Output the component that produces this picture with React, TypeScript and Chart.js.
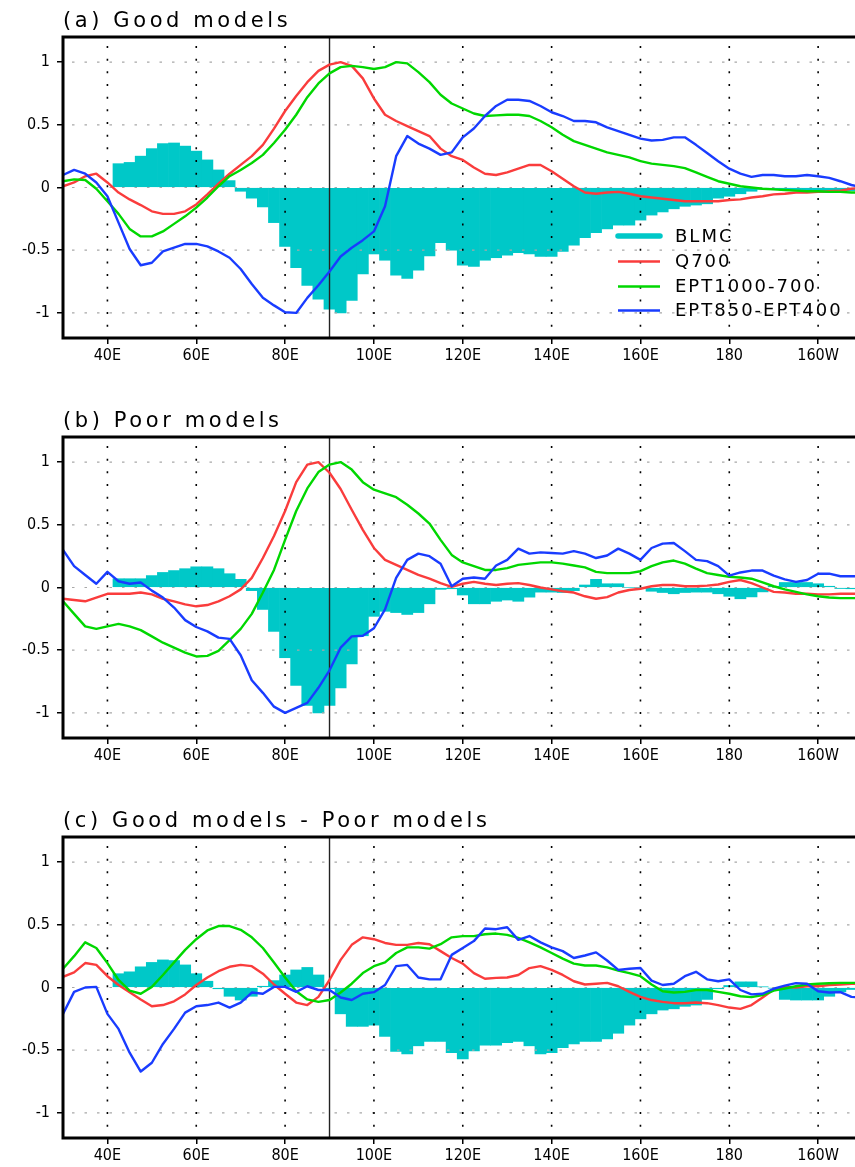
import React, { useEffect, useRef } from 'react';
import { Chart, registerables } from 'chart.js';

Chart.register(...registerables);

// ---------- axes ----------
const LINE_LON = [
  30, 32.5, 35, 37.5, 40, 42.5, 45, 47.5, 50, 52.5,
  55, 57.5, 60, 62.5, 65, 67.5, 70, 72.5, 75, 77.5,
  80, 82.5, 85, 87.5, 90, 92.5, 95, 97.5, 100, 102.5,
  105, 107.5, 110, 112.5, 115, 117.5, 120, 122.5, 125, 127.5,
  130, 132.5, 135, 137.5, 140, 142.5, 145, 147.5, 150, 152.5,
  155, 157.5, 160, 162.5, 165, 167.5, 170, 172.5, 175, 177.5,
  180, 182.5, 185, 187.5, 190, 192.5, 195, 197.5, 200, 202.5,
  205, 207.5, 210,
];
const BAR_LON = [
  42.5, 45, 47.5, 50, 52.5, 55, 57.5, 60, 62.5, 65,
  67.5, 70, 72.5, 75, 77.5, 80, 82.5, 85, 87.5, 90,
  92.5, 95, 97.5, 100, 102.5, 105, 107.5, 110, 112.5, 115,
  117.5, 120, 122.5, 125, 127.5, 130, 132.5, 135, 137.5, 140,
  142.5, 145, 147.5, 150, 152.5, 155, 157.5, 160, 162.5, 165,
  167.5, 170, 172.5, 175, 177.5, 180, 182.5, 185, 187.5, 190,
  192.5, 195, 197.5, 200, 202.5, 205, 207.5,
];
const X_TICKS = [40, 60, 80, 100, 120, 140, 160, 180, 200];
const X_LABELS = ['40E', '60E', '80E', '100E', '120E', '140E', '160E', '180', '160W'];
const Y_TICKS = [-1, -0.5, 0, 0.5, 1];
const Y_LABELS = ['-1', '-0.5', '0', '0.5', '1'];
const X_MIN = 30;
const X_MAX = 208.3;
const Y_MIN = -1.2;
const Y_MAX = 1.2;
const REF_LON = 90;

const SERIES_NAMES = ['BLMC', 'Q700', 'EPT1000-700', 'EPT850-EPT400'];
const SERIES_COLORS = ['rgb(0,200,200)', 'rgb(250,60,60)', 'rgb(0,215,0)', 'rgb(25,60,255)'];
const PANEL_TITLES = ['(a) Good models', '(b) Poor models', '(c) Good models - Poor models'];

// ---------- panel (a) ----------
const BLMC_A = [
  0.19, 0.20, 0.25, 0.31, 0.35, 0.355, 0.33, 0.29, 0.22, 0.14,
  0.055, -0.03, -0.085, -0.155, -0.28, -0.47, -0.64, -0.78, -0.89, -0.97,
  -1.0, -0.90, -0.69, -0.53, -0.58, -0.70, -0.725, -0.66, -0.545, -0.44,
  -0.50, -0.62, -0.63, -0.58, -0.56, -0.54, -0.52, -0.53, -0.55, -0.55,
  -0.51, -0.46, -0.40, -0.36, -0.33, -0.30, -0.30, -0.26, -0.22, -0.195,
  -0.17, -0.15, -0.14, -0.13, -0.085, -0.07, -0.05, -0.03, -0.015, -0.01,
  -0.02, -0.025, -0.03, -0.04, -0.04, -0.035, -0.025,
];
const Q700_A = [
  0.01, 0.04, 0.09, 0.11, 0.04, -0.04, -0.095, -0.14, -0.19, -0.21,
  -0.21, -0.19, -0.135, -0.055, 0.03, 0.11, 0.18, 0.25, 0.34, 0.47,
  0.61, 0.73, 0.84, 0.93, 0.98, 1.0, 0.97, 0.87, 0.71, 0.58,
  0.53, 0.49, 0.45, 0.41, 0.31, 0.25, 0.22, 0.16, 0.11, 0.10,
  0.12, 0.15, 0.18, 0.18, 0.13, 0.07, 0.01, -0.04, -0.05, -0.04,
  -0.035, -0.05, -0.07, -0.08, -0.09, -0.10, -0.11, -0.11, -0.11, -0.11,
  -0.10, -0.095, -0.08, -0.07, -0.055, -0.05, -0.04, -0.04, -0.035, -0.03,
  -0.025, -0.01, 0.0,
];
const EPT1000_A = [
  0.05, 0.065, 0.06, -0.01, -0.11, -0.21, -0.33, -0.39, -0.39, -0.35,
  -0.29, -0.23, -0.16, -0.08, 0.01, 0.09, 0.14, 0.195, 0.26, 0.355,
  0.46, 0.58, 0.72, 0.83, 0.91, 0.96, 0.97, 0.96, 0.945, 0.96,
  1.0, 0.99, 0.92, 0.84, 0.74, 0.67, 0.63, 0.59, 0.57, 0.575,
  0.58, 0.58, 0.57, 0.53, 0.48, 0.42, 0.37, 0.34, 0.31, 0.28,
  0.26, 0.24, 0.21, 0.19, 0.18, 0.17, 0.155, 0.12, 0.085, 0.05,
  0.03, 0.01, 0.0, -0.01, -0.015, -0.02, -0.025, -0.03, -0.03, -0.035,
  -0.035, -0.04, -0.04,
];
const EPT850_A = [
  0.10, 0.14, 0.11, 0.04, -0.07, -0.28, -0.49, -0.62, -0.60, -0.51,
  -0.48, -0.45, -0.45, -0.47, -0.51, -0.56, -0.65, -0.77, -0.88, -0.94,
  -0.995, -1.0, -0.88, -0.78, -0.67, -0.55, -0.48, -0.42, -0.35, -0.15,
  0.25, 0.41, 0.35, 0.31, 0.26, 0.28, 0.40, 0.47, 0.57, 0.65,
  0.70, 0.70, 0.69, 0.65, 0.60, 0.57, 0.53, 0.53, 0.52, 0.48,
  0.45, 0.42, 0.39, 0.375, 0.38, 0.40, 0.40, 0.34, 0.275, 0.21,
  0.15, 0.11, 0.085, 0.10, 0.10, 0.09, 0.09, 0.10, 0.09, 0.077,
  0.05, 0.02, 0.0,
];

// ---------- panel (b) ----------
const BLMC_B = [
  0.07, 0.07, 0.07, 0.095, 0.12, 0.135, 0.15, 0.165, 0.165, 0.15,
  0.11, 0.065, -0.025, -0.175, -0.35, -0.56, -0.78, -0.94, -1.0, -0.94,
  -0.80, -0.61, -0.385, -0.23, -0.19, -0.20, -0.215, -0.20, -0.13, -0.015,
  -0.01, -0.06, -0.13, -0.13, -0.11, -0.10, -0.11, -0.077, -0.037, -0.037,
  -0.04, -0.025, 0.02, 0.065, 0.03, 0.03, 0.0, 0.0, -0.03, -0.04,
  -0.05, -0.04, -0.037, -0.037, -0.05, -0.07, -0.09, -0.075, -0.035, 0.01,
  0.04, 0.04, 0.04, 0.03, 0.01, -0.008, -0.01,
];
const Q700_B = [
  -0.09, -0.10, -0.11, -0.08, -0.05, -0.05, -0.05, -0.04, -0.055, -0.09,
  -0.11, -0.135, -0.15, -0.14, -0.11, -0.07, -0.015, 0.077, 0.235, 0.41,
  0.61, 0.84, 0.98, 1.0, 0.915, 0.785, 0.62, 0.46, 0.315, 0.22,
  0.18, 0.14, 0.10, 0.07, 0.035, 0.005, 0.03, 0.045, 0.03, 0.02,
  0.03, 0.035, 0.02, 0.0, -0.015, -0.03, -0.04, -0.07, -0.09, -0.077,
  -0.04, -0.02, -0.01, 0.01, 0.02, 0.02, 0.01, 0.01, 0.015, 0.024,
  0.045, 0.06, 0.035, 0.0, -0.035, -0.04, -0.05, -0.05, -0.055, -0.055,
  -0.05, -0.05, -0.05,
];
const EPT1000_B = [
  -0.11, -0.21, -0.31, -0.33, -0.31, -0.29, -0.31, -0.34, -0.39, -0.44,
  -0.48, -0.52, -0.55, -0.545, -0.505, -0.42, -0.33, -0.21, -0.04, 0.14,
  0.38, 0.61, 0.79, 0.92, 0.98, 1.0, 0.94, 0.84, 0.78, 0.75,
  0.72, 0.66, 0.59, 0.51, 0.38, 0.26, 0.20, 0.17, 0.14, 0.14,
  0.155, 0.18, 0.19, 0.20, 0.20, 0.19, 0.175, 0.16, 0.125, 0.115,
  0.115, 0.115, 0.13, 0.17, 0.20, 0.215, 0.19, 0.15, 0.115, 0.10,
  0.085, 0.08, 0.07, 0.04, 0.01, -0.015, -0.035, -0.055, -0.07, -0.08,
  -0.085, -0.085, -0.085,
];
const EPT850_B = [
  0.30, 0.17, 0.10, 0.03, 0.125, 0.05, 0.03, 0.04, -0.025, -0.08,
  -0.16, -0.26, -0.315, -0.35, -0.40, -0.41, -0.54, -0.74, -0.84, -0.95,
  -1.0, -0.96, -0.92, -0.80, -0.66, -0.48, -0.39, -0.385, -0.325, -0.175,
  0.077, 0.22, 0.27, 0.25, 0.19, 0.01, 0.07, 0.08, 0.07, 0.175,
  0.22, 0.31, 0.27, 0.28, 0.275, 0.27, 0.29, 0.27, 0.235, 0.255,
  0.31, 0.27, 0.22, 0.315, 0.35, 0.355, 0.29, 0.22, 0.21, 0.17,
  0.095, 0.12, 0.135, 0.135, 0.095, 0.065, 0.045, 0.06, 0.11, 0.11,
  0.09, 0.09, 0.09,
];

// ---------- panel (c) ----------
const BLMC_C = [
  0.11, 0.125, 0.165, 0.20, 0.22, 0.215, 0.18, 0.11, 0.05, -0.01,
  -0.07, -0.10, -0.07, 0.01, 0.055, 0.10, 0.14, 0.16, 0.10, -0.01,
  -0.21, -0.31, -0.31, -0.30, -0.39, -0.51, -0.53, -0.465, -0.43, -0.43,
  -0.52, -0.57, -0.505, -0.46, -0.46, -0.44, -0.43, -0.465, -0.53, -0.52,
  -0.48, -0.45, -0.43, -0.43, -0.41, -0.365, -0.30, -0.25, -0.21, -0.18,
  -0.17, -0.15, -0.14, -0.095, -0.01, 0.016, 0.045, 0.045, 0.005, -0.005,
  -0.095, -0.10, -0.10, -0.10, -0.07, -0.035, -0.016,
];
const Q700_C = [
  0.085, 0.12, 0.195, 0.18, 0.09, 0.02, -0.037, -0.095, -0.15, -0.14,
  -0.11, -0.055, 0.02, 0.08, 0.13, 0.165, 0.18, 0.17, 0.11, 0.024,
  -0.05, -0.12, -0.14, -0.075, 0.06, 0.22, 0.34, 0.40, 0.385, 0.355,
  0.34, 0.34, 0.355, 0.345, 0.29, 0.235, 0.19, 0.115, 0.07, 0.077,
  0.08, 0.10, 0.155, 0.17, 0.14, 0.10, 0.05, 0.024, 0.03, 0.037,
  0.01, -0.035, -0.075, -0.10, -0.115, -0.125, -0.125, -0.12, -0.125, -0.14,
  -0.16, -0.17, -0.14, -0.08, -0.016, 0.005, 0.0, 0.01, 0.01, 0.02,
  0.024, 0.03, 0.03,
];
const EPT1000_C = [
  0.15, 0.25, 0.36, 0.315, 0.195, 0.06, -0.025, -0.05, 0.005, 0.10,
  0.20, 0.30, 0.385, 0.455, 0.49, 0.49, 0.46, 0.40, 0.315, 0.20,
  0.08, -0.03, -0.095, -0.115, -0.10, -0.04, 0.03, 0.115, 0.17, 0.20,
  0.275, 0.32, 0.32, 0.31, 0.345, 0.40, 0.41, 0.41, 0.425, 0.43,
  0.42, 0.395, 0.36, 0.32, 0.275, 0.23, 0.19, 0.175, 0.175, 0.16,
  0.135, 0.115, 0.09, 0.024, -0.03, -0.04, -0.035, -0.02, -0.02, -0.035,
  -0.05, -0.07, -0.077, -0.06, -0.025, -0.008, 0.01, 0.024, 0.03, 0.034,
  0.037, 0.037, 0.037,
];
const EPT850_C = [
  -0.21, -0.035, 0.0, 0.005, -0.21, -0.33, -0.52, -0.67, -0.60, -0.45,
  -0.33, -0.20, -0.15, -0.14, -0.12, -0.16, -0.12, -0.04, -0.05, 0.005,
  0.005, -0.035, 0.01, -0.02, -0.02, -0.08, -0.10, -0.05, -0.037, 0.02,
  0.17, 0.18, 0.08, 0.065, 0.065, 0.26, 0.315, 0.37, 0.47, 0.465,
  0.48, 0.38, 0.41, 0.36, 0.32, 0.29, 0.235, 0.255, 0.28, 0.215,
  0.14, 0.15, 0.155, 0.055, 0.02, 0.03, 0.09, 0.125, 0.065, 0.05,
  0.065, -0.02, -0.055, -0.05, -0.01, 0.015, 0.035, 0.03, -0.03, -0.04,
  -0.037, -0.075, -0.08,
];

const TITLE_FONT = '21px "DejaVu Sans", sans-serif';
const TICK_FONT_FAMILY = '"Liberation Sans Narrow", "DejaVu Sans Condensed", "DejaVu Sans", sans-serif';
const LEGEND_FONT = '18px "DejaVu Sans", sans-serif';

const framePlugin = {
  id: 'frame',
  afterDatasetDraw(chart: any, args: any) {
    if (args.index !== 0) return;
    const { ctx, chartArea: ca, scales } = chart;
    const xs = scales.x;
    const ys = scales.y;
    ctx.save();
    ctx.beginPath();
    ctx.rect(ca.left, ca.top, ca.right - ca.left, ca.bottom - ca.top);
    ctx.clip();
    // horizontal dashed grid
    ctx.strokeStyle = '#a8a8a8';
    ctx.lineWidth = 1.2;
    ctx.setLineDash([2.5, 10]);
    for (const v of Y_TICKS) {
      const py = ys.getPixelForValue(v);
      ctx.beginPath();
      ctx.moveTo(ca.left + 9, py);
      ctx.lineTo(ca.right, py);
      ctx.stroke();
    }
    // vertical dotted grid
    ctx.strokeStyle = '#000';
    ctx.lineWidth = 1.6;
    ctx.setLineDash([2, 10.67]);
    for (const v of X_TICKS) {
      const px = xs.getPixelForValue(v);
      ctx.beginPath();
      ctx.moveTo(px, ca.top + 9);
      ctx.lineTo(px, ca.bottom);
      ctx.stroke();
    }
    // reference meridian
    ctx.setLineDash([]);
    ctx.strokeStyle = '#222';
    ctx.lineWidth = 1.4;
    const rx = xs.getPixelForValue(REF_LON);
    ctx.beginPath();
    ctx.moveTo(rx, ca.top);
    ctx.lineTo(rx, ca.bottom);
    ctx.stroke();
    ctx.restore();
  },
  afterDraw(chart: any, _args: any, opts: any) {
    const { ctx, chartArea: ca } = chart;
    ctx.save();
    // frame
    ctx.strokeStyle = '#000';
    ctx.lineWidth = 3;
    ctx.lineJoin = 'miter';
    ctx.beginPath();
    ctx.moveTo(ca.right + 5, ca.top);
    ctx.lineTo(ca.left, ca.top);
    ctx.lineTo(ca.left, ca.bottom);
    ctx.lineTo(ca.right + 5, ca.bottom);
    ctx.stroke();
    // title
    ctx.fillStyle = '#000';
    ctx.font = TITLE_FONT;
    ctx.letterSpacing = '3.6px';
    ctx.textAlign = 'left';
    ctx.textBaseline = 'alphabetic';
    ctx.fillText(opts.title, ca.left, 27);
    // legend
    if (opts.legend) {
      const rows = [236, 261.5, 286.5, 310.5];
      ctx.font = LEGEND_FONT;
      ctx.letterSpacing = '2px';
      ctx.textBaseline = 'middle';
      SERIES_NAMES.forEach((name, i) => {
        const y = rows[i];
        ctx.strokeStyle = SERIES_COLORS[i];
        ctx.lineWidth = i === 0 ? 5.5 : 2.5;
        ctx.lineCap = i === 0 ? 'round' : 'butt';
        ctx.beginPath();
        ctx.moveTo(618, y);
        ctx.lineTo(660, y);
        ctx.stroke();
        ctx.fillStyle = '#000';
        ctx.fillText(name, 675, y + 1);
      });
    }
    ctx.letterSpacing = '0px';
    ctx.restore();
  },
};

function Panel(props: { idx: number; bars: number[]; q: number[]; e1: number[]; e2: number[] }) {
  const ref = useRef<HTMLCanvasElement | null>(null);
  useEffect(() => {
    const canvas = ref.current;
    if (!canvas) return;
    const line = (label: string, arr: number[], color: string, order: number) => ({
      type: 'line' as const,
      label,
      data: LINE_LON.map((x, i) => ({ x, y: arr[i] })),
      borderColor: color,
      backgroundColor: color,
      borderWidth: 2.4,
      pointRadius: 0,
      tension: 0,
      borderJoinStyle: 'round' as const,
      order,
    });
    const chart = new Chart(canvas, {
      type: 'bar',
      data: {
        datasets: [
          {
            type: 'bar',
            label: SERIES_NAMES[0],
            data: BAR_LON.map((x, i) => ({ x, y: props.bars[i] })),
            backgroundColor: SERIES_COLORS[0],
            borderWidth: 0,
            barPercentage: 1,
            categoryPercentage: 1,
            order: 4,
          } as any,
          line(SERIES_NAMES[1], props.q, SERIES_COLORS[1], 3),
          line(SERIES_NAMES[2], props.e1, SERIES_COLORS[2], 2),
          line(SERIES_NAMES[3], props.e2, SERIES_COLORS[3], 1),
        ],
      },
      options: {
        animation: false,
        responsive: false,
        maintainAspectRatio: false,
        layout: { padding: { top: 37, left: 0, right: 0, bottom: 0 } },
        scales: {
          x: {
            type: 'linear',
            min: X_MIN,
            max: X_MAX,
            offset: false,
            afterBuildTicks: (s: any) => {
              s.ticks = X_TICKS.map((value) => ({ value }));
            },
            afterFit: (s: any) => {
              s.height = 62;
            },
            grid: { display: true, drawOnChartArea: false, drawTicks: true, tickLength: 6, color: '#000', lineWidth: 1.5, offset: false },
            border: { display: false },
            ticks: {
              autoSkip: false,
              maxRotation: 0,
              padding: 2,
              color: '#000',
              font: { family: TICK_FONT_FAMILY, size: 16 },
              callback: (v: any) => X_LABELS[X_TICKS.indexOf(Number(v))] ?? '',
            },
          },
          y: {
            type: 'linear',
            min: Y_MIN,
            max: Y_MAX,
            afterBuildTicks: (s: any) => {
              s.ticks = Y_TICKS.map((value) => ({ value }));
            },
            afterFit: (s: any) => {
              s.width = 63;
            },
            grid: { display: true, drawOnChartArea: false, drawTicks: true, tickLength: 6, color: '#000', lineWidth: 1.5 },
            border: { display: false },
            ticks: {
              padding: 7,
              color: '#000',
              font: { family: TICK_FONT_FAMILY, size: 16 },
              callback: (v: any) => Y_LABELS[Y_TICKS.indexOf(Number(v))] ?? '',
            },
          },
        },
        plugins: {
          legend: { display: false },
          tooltip: { enabled: false },
          title: { display: false },
          frame: { title: PANEL_TITLES[props.idx], legend: props.idx === 0 },
        } as any,
      },
      plugins: [framePlugin as any],
    } as any);
    return () => chart.destroy();
  }, []);
  return <canvas ref={ref} width={855} height={400} style={{ display: 'block', width: 855, height: 400 }} />;
}

export default function App() {
  useEffect(() => {
    document.body.style.margin = '0';
  }, []);
  return (
    <div style={{ position: 'fixed', left: 0, top: 0, width: 855, height: 1167, overflow: 'hidden', background: '#fff' }}>
      <Panel idx={0} bars={BLMC_A} q={Q700_A} e1={EPT1000_A} e2={EPT850_A} />
      <Panel idx={1} bars={BLMC_B} q={Q700_B} e1={EPT1000_B} e2={EPT850_B} />
      <Panel idx={2} bars={BLMC_C} q={Q700_C} e1={EPT1000_C} e2={EPT850_C} />
    </div>
  );
}
